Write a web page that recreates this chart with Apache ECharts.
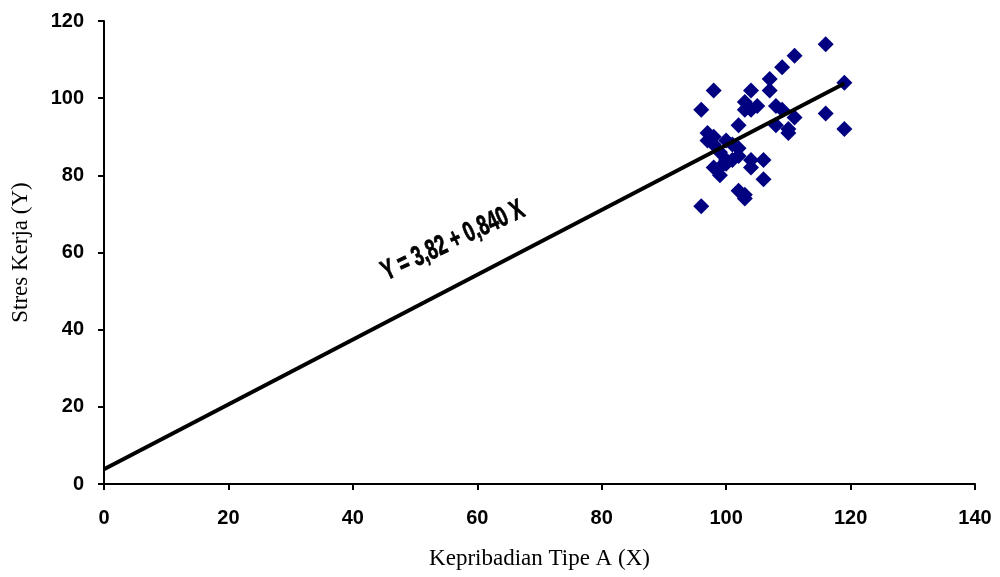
<!DOCTYPE html>
<html>
<head>
<meta charset="utf-8">
<script src="https://cdn.jsdelivr.net/npm/echarts@6/dist/echarts.min.js"></script>
<style>html,body{margin:0;padding:0;background:#fff}#c{width:1000px;height:577px}</style>
</head>
<body>
<div id="c"></div>
<script>
// Observed points (Kepribadian Tipe A X, Stres Kerja Y)
const pointsX = [96,98,96,97,98,97,98,99,100,101,102,102,100,99,98,99,101,102,103,104,103,105,104,107,107,109,111,116,119,116,119,108,109,111,108,110,110,104,106,104,106,102,103,103,100];
const pointsY = [97,102,72,91,90,89,88,86,89,88,87,85,84,82,82,80,84,93,99,97,97,98,102,102,105,108,111,114,104,96,92,98,97,95,93,92,91,84,84,82,79,76,75,74,83];
// Regression line endpoints: Y = 3,82 + 0,840 X
const lineX = [0, 119];
const lineY = [3.82, 103.78];
const xTicks = [0,20,40,60,80,100,120,140];
const yTicks = [0,20,40,60,80,100,120];
const equationLabel = 'Y = 3,82 + 0,840 X';

const chart = echarts.init(document.getElementById('c'));
const scatterData = pointsX.map((x,i)=>[x, pointsY[i]]);
const lineData = lineX.map((x,i)=>[x, lineY[i]]);
const labelFont = {color:'#000', fontFamily:'Liberation Sans, Arial, sans-serif', fontWeight:'bold', fontSize:20};
const nameFont = {fontFamily:'Liberation Serif, Times New Roman, serif', fontSize:23, color:'#000'};
chart.setOption({
  animation:false,
  backgroundColor:'#fff',
  grid:{left:104, right:25, top:21, bottom:93, containLabel:false},
  xAxis:{
    type:'value', min:xTicks[0], max:xTicks[xTicks.length-1], interval:20,
    name:'Kepribadian Tipe A (X)', nameLocation:'middle', nameGap:63,
    nameTextStyle:nameFont,
    axisLine:{lineStyle:{color:'#000', width:2}},
    axisTick:{show:true, length:6, lineStyle:{color:'#000', width:2}},
    axisLabel:Object.assign({margin:24}, labelFont),
    splitLine:{show:false}
  },
  yAxis:{
    type:'value', min:yTicks[0], max:yTicks[yTicks.length-1], interval:20,
    name:'Stres Kerja (Y)', nameLocation:'middle', nameGap:72, nameRotate:90,
    nameTextStyle:nameFont,
    axisLine:{show:true, lineStyle:{color:'#000', width:2}},
    axisTick:{show:true, length:6, lineStyle:{color:'#000', width:2}},
    axisLabel:Object.assign({margin:20}, labelFont),
    splitLine:{show:false}
  },
  series:[
    {type:'line', data:lineData, symbol:'none', lineStyle:{color:'#000', width:4}, z:3, silent:true},
    {type:'scatter', data:scatterData, symbol:'diamond', symbolSize:16, itemStyle:{color:'#000080', opacity:1}, z:2}
  ],
  graphic:[{
    type:'group', x:453, y:241, rotation:25*Math.PI/180,
    children:[{
      type:'text', x:0, y:0, scaleX:0.66, scaleY:1,
      style:{text:equationLabel, fill:'#000', stroke:'#000', lineWidth:0.8, font:'bold 28px "Liberation Sans", Arial, sans-serif', align:'center', verticalAlign:'middle'}
    }]
  }]
});
</script>
</body>
</html>
